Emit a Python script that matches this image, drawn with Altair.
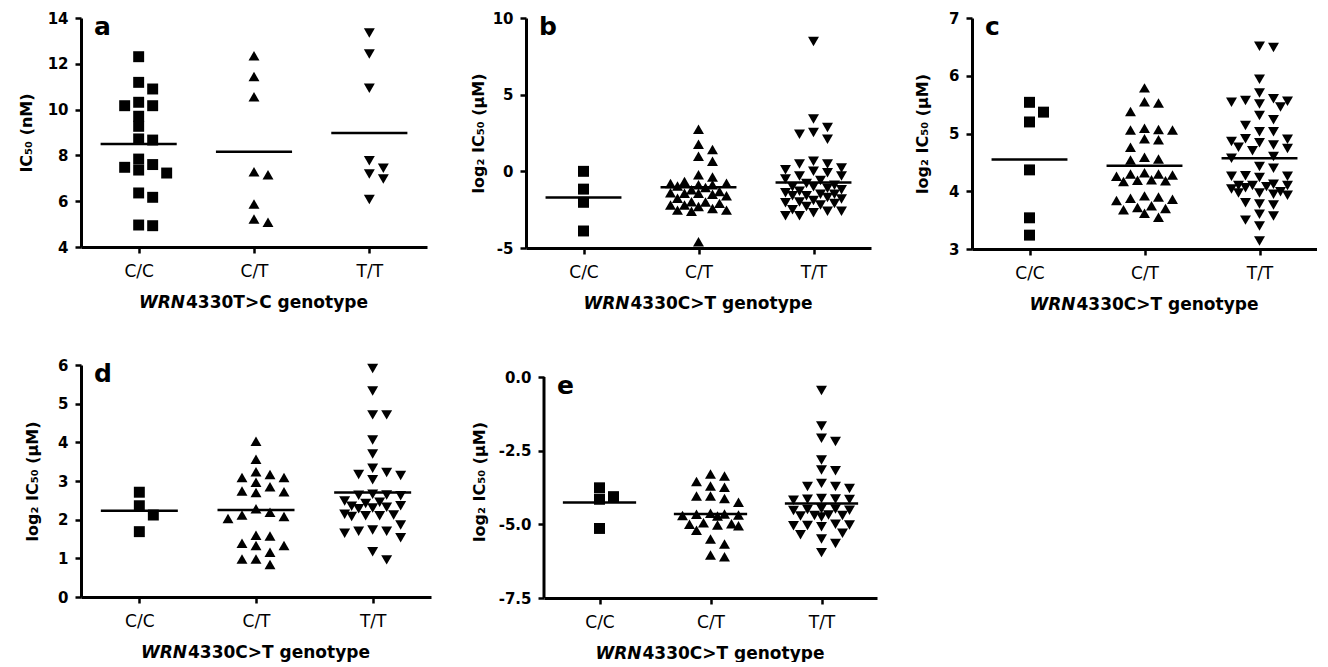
import altair as alt
import pandas as pd

GENOS = ["C/C", "C/T", "T/T"]
SHAPES = ["square", "triangle-up", "triangle-down"]
FONT = "DejaVu Sans"

# ---- panel a : IC50 (nM), WRN4330T>C
a_cc = [12.31, 11.19, 10.90, 10.32, 10.17, 10.17, 9.71, 9.27, 8.67, 8.72, 7.84, 7.48,
        7.23, 7.36, 7.60, 6.36, 6.17, 4.93, 4.96]
a_ct = [12.35, 11.45, 10.56, 7.16, 7.29, 5.88, 5.08, 5.22]
a_tt = [13.35, 12.43, 10.93, 7.77, 7.44, 7.19, 6.97, 6.07]
a_means = [8.50, 8.16, 8.98]
a_ticks = [4, 6, 8, 10, 12, 14]

# ---- panel b
b_cc = [0.0, -1.16, -2.02, -3.89]
b_ct = [2.75, 1.76, 1.43, 0.99, 0.66, -0.22, -0.37, -0.66, -0.77, -0.80, -0.88, -0.88,
        -0.95, -1.05, -1.20, -1.32, -1.40, -1.43, -1.43, -1.50, -1.60, -1.75, -1.98,
        -2.00, -2.09, -2.20, -2.20, -2.30, -2.42, -2.53, -2.53, -2.60, -4.60]
b_tt = [8.46, 3.41, 2.86, 2.53, 2.42, 2.09, 0.66, 0.48, 0.48, 0.22, 0.11, 0.0, -0.1,
        -0.3, -0.3, -0.5, -0.6, -0.8, -0.9, -1.0, -1.0, -1.1, -1.2, -1.3, -1.4, -1.5,
        -1.5, -1.6, -1.6, -1.7, -1.8, -1.9, -2.0, -2.05, -2.1, -2.2, -2.3, -2.5, -2.6,
        -2.6, -2.7, -2.9, -2.9]
b_means = [-1.71, -1.03, -0.73]
b_ticks = [-5, 0, 5, 10]

# ---- panel c
c_cc = [5.54, 5.37, 5.20, 4.37, 3.54, 3.24]
c_ct = [5.79, 5.55, 5.53, 5.38, 5.07, 5.06, 5.06, 5.09, 4.91, 4.89, 4.76, 4.54, 4.56,
        4.59, 4.32, 4.30, 4.28, 4.30, 4.26, 4.18, 4.19, 4.17, 4.20, 3.90, 3.86, 3.84,
        3.88, 3.92, 3.72, 3.68, 3.75, 3.62, 3.70, 3.55]
c_tt = [6.49, 6.51, 5.94, 5.70, 5.57, 5.54, 5.46, 5.60, 5.51, 5.56, 5.24, 5.14, 5.31,
        5.03, 4.90, 4.91, 5.03, 4.74, 4.86, 4.84, 4.80, 4.70, 4.76, 4.57, 4.60, 4.43,
        4.40, 4.26, 4.26, 4.27, 4.24, 4.10, 4.10, 4.08, 4.12, 4.06, 4.10, 4.04, 3.97,
        3.97, 3.99, 3.95, 3.93, 3.78, 3.76, 3.80, 3.60, 3.50, 3.57, 3.40, 3.14]
c_means = [4.55, 4.44, 4.57]
c_ticks = [3, 4, 5, 6, 7]

# ---- panel d
d_cc = [2.71, 2.36, 2.12, 1.69]
d_ct = [4.03, 3.56, 3.17, 3.09, 3.09, 3.24, 2.85, 2.97, 2.72, 2.70, 2.74, 2.28, 2.19,
        2.12, 2.03, 2.08, 1.58, 1.60, 1.33, 1.33, 1.39, 1.16, 0.98, 0.84, 0.98]
d_tt = [5.91, 5.33, 4.71, 4.71, 4.06, 3.70, 3.33, 3.22, 3.14, 3.03, 3.17, 2.66, 2.63,
        2.62, 2.64, 2.48, 2.45, 2.42, 2.30, 2.32, 2.28, 2.35, 2.36, 2.10, 2.08, 2.12,
        2.10, 2.14, 1.86, 1.70, 1.65, 1.53, 1.70, 1.73, 1.17, 0.96]
d_means = [2.23, 2.25, 2.70]
d_ticks = [0, 1, 2, 3, 4, 5, 6]

# ---- panel e
e_cc = [-4.06, -4.15, -3.76, -5.14]
e_ct = [-3.29, -3.36, -3.55, -3.70, -3.74, -4.04, -4.12, -4.04, -4.25, -4.62, -4.68,
        -4.65, -4.72, -4.70, -4.66, -4.98, -5.00, -4.95, -5.02, -5.05, -5.20, -5.50,
        -5.67, -6.10, -6.04]
e_tt = [-0.46, -1.66, -2.19, -2.08, -2.82, -3.16, -3.18, -3.61, -3.72, -3.78, -3.72,
        -4.12, -4.15, -4.14, -4.16, -4.18, -4.48, -4.52, -4.47, -4.50, -4.53, -4.70,
        -4.72, -4.68, -4.75, -4.70, -5.05, -5.02, -5.00, -5.08, -5.04, -5.30, -5.35,
        -5.50, -5.65, -5.96]
e_means = [-4.26, -4.65, -4.29]
e_ticks = [-7.5, -5.0, -2.5, 0.0]

YT_IC = "IC\u2085\u2080 (nM)"
YT_LOG = "log\u2082 IC\u2085\u2080 (\u00b5M)"

CANDS = [0, 14, -14, 28, -28, 7, -7, 21, -21]


def swarm(groups, lo, hi, height, width):
    """simple beeswarm layout: horizontal spread of points inside each genotype column"""
    step = width / 3.0
    rows = []
    for gi, vals in enumerate(groups):
        placed = []
        for v in sorted(vals, reverse=True):
            ypx = (v - lo) / (hi - lo) * height
            best = None
            for c in CANDS:
                if all(abs(c - px) >= 11 or abs(ypx - py) >= 10 for px, py in placed):
                    best = c
                    break
            if best is None:
                best = max(CANDS, key=lambda c: min((c - px) ** 2 + (ypx - py) ** 2
                                                   for px, py in placed))
            placed.append((best, ypx))
            rows.append({"geno": GENOS[gi], "v": v, "xp": gi + best / step})
    return pd.DataFrame(rows)


def panel(letter, groups, means, lo, hi, ticks, width, height, ytitle, xrest,
          title_x, yfmt="d", top_gap=0):
    # top_gap: empty pixels above the axis top (axis line then drawn as a rule)
    px_per_unit = height / (hi - lo)
    hi_ext = hi + top_gap / px_per_unit
    full_h = height + top_gap
    df = swarm(groups, lo, hi, height, width)
    xs = alt.Scale(domain=[-0.5, 2.5], nice=False, zero=False)
    ys = alt.Scale(domain=[lo, hi_ext], nice=False, zero=False)
    xaxis = alt.Axis(values=[0, 1, 2], labelExpr="['C/C','C/T','T/T'][datum.value]",
                     title=None, grid=False)
    yaxis = alt.Axis(values=ticks, format=yfmt, title=ytitle, grid=False,
                     titleX=title_x, domain=(top_gap == 0),
                     labelExpr="replace(datum.label, '\u2212', '-')")

    pts = alt.Chart(df).mark_point(filled=True, opacity=1, color="black", size=120,
                                   strokeWidth=0).encode(
        x=alt.X("xp:Q", scale=xs, axis=xaxis),
        y=alt.Y("v:Q", scale=ys, axis=yaxis),
        shape=alt.Shape("geno:N", scale=alt.Scale(domain=GENOS, range=SHAPES), legend=None),
    )
    mdf = pd.DataFrame({"i": [0, 1, 2], "m": means})
    rule = alt.Chart(mdf).transform_calculate(
        x1="datum.i - 0.33", x2="datum.i + 0.33"
    ).mark_rule(color="black", strokeWidth=2.5).encode(
        x=alt.X("x1:Q", scale=xs, axis=xaxis),
        x2="x2:Q",
        y=alt.Y("m:Q", scale=ys, axis=yaxis),
    )
    layers = [pts, rule]
    if top_gap:
        adf = pd.DataFrame({"y1": [lo], "y2": [hi]})
        layers.append(alt.Chart(adf).mark_rule(color="black", strokeWidth=3).encode(
            x=alt.value(0),
            y=alt.Y("y1:Q", scale=ys, axis=yaxis),
            y2="y2:Q",
        ))
    lab = alt.Chart(pd.DataFrame({"t": [letter]})).mark_text(
        font=FONT, fontSize=25, fontWeight="bold", align="left", baseline="alphabetic",
        color="black").encode(x=alt.value(13), y=alt.value(17 + top_gap), text="t:N")
    cx = width / 2.0 - 69
    t1 = alt.Chart(pd.DataFrame({"t": ["WRN"]})).mark_text(
        font=FONT, fontSize=17, fontWeight="bold", fontStyle="italic", align="right",
        baseline="middle", color="black").encode(
        x=alt.value(cx), y=alt.value(full_h + 56), text="t:N")
    t2 = alt.Chart(pd.DataFrame({"t": [xrest]})).mark_text(
        font=FONT, fontSize=17, fontWeight="bold", align="left",
        baseline="middle", color="black").encode(
        x=alt.value(cx + 1), y=alt.value(full_h + 56), text="t:N")
    layers += [lab, t1, t2]
    return alt.layer(*layers).properties(width=width, height=full_h)


pa = panel("a", [a_cc, a_ct, a_tt], a_means, 4, 14, a_ticks, 346, 229, YT_IC,
           "4330T>C genotype", -47)
pb = panel("b", [b_cc, b_ct, b_tt], b_means, -5, 10, b_ticks, 345, 230, YT_LOG,
           "4330C>T genotype", -40)
pc = panel("c", [c_cc, c_ct, c_tt], c_means, 3, 7, c_ticks, 345, 231, YT_LOG,
           "4330C>T genotype", -42)
pd_ = panel("d", [d_cc, d_ct, d_tt], d_means, 0, 6, d_ticks, 350, 232, YT_LOG,
            "4330C>T genotype", -41)
pe = panel("e", [e_cc, e_ct, e_tt], e_means, -7.5, 0, e_ticks, 333, 221, YT_LOG,
           "4330C>T genotype", -57, yfmt=".1f", top_gap=12)

top = alt.hconcat(pa, pb, pc, spacing=43)
bottom = alt.hconcat(pd_, pe, spacing=39)

chart = alt.vconcat(top, bottom, spacing=45).properties(
    padding={"left": 10, "top": 3, "right": 0, "bottom": 0}
).configure_view(stroke=None).configure_axis(
    domainColor="black", domainWidth=3, tickColor="black", tickWidth=2.5, tickSize=6,
    labelColor="black", titleColor="black", labelFont=FONT, titleFont=FONT, grid=False,
).configure_axisX(
    labelFontSize=17, labelFontWeight="normal", labelPadding=10,
).configure_axisY(
    labelFontSize=15, labelFontWeight="bold", labelPadding=7, titleFontSize=16,
    titleFontWeight="bold",
)

chart.save("out.html", embed_options={"renderer": "svg", "actions": False})
